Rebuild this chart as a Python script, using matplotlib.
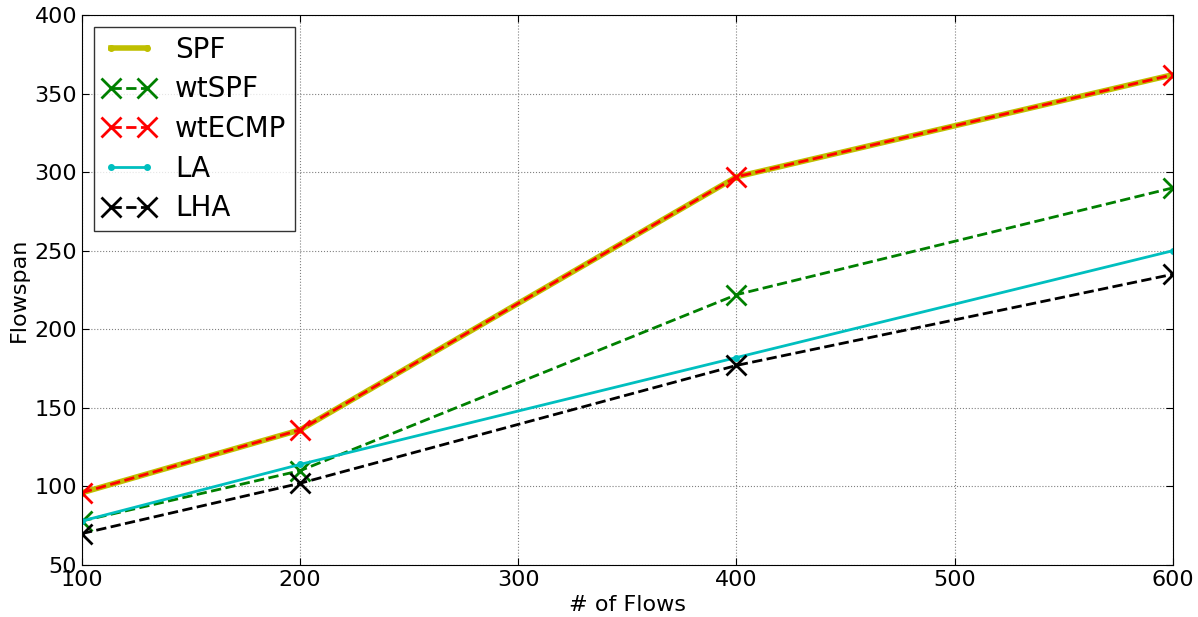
import matplotlib
matplotlib.use("Agg")
import matplotlib.pyplot as plt

# Data
flows = [100, 200, 400, 600]
spf = [96, 136, 297, 362]
wt_spf = [78, 110, 222, 290]
wt_ecmp = [96, 136, 297, 362]
la = [78, 114, 182, 250]
lha = [70, 102, 177, 235]

fig = plt.figure(figsize=(11.98, 6.17), dpi=100)
ax = fig.add_axes([0.0684, 0.0843, 0.9106, 0.8914])

ax.plot(flows, spf, "y.-", linewidth=4, markersize=8, label="SPF")
ax.plot(flows, wt_spf, "gx--", linewidth=2, markersize=15, markeredgewidth=2, label="wtSPF")
ax.plot(flows, wt_ecmp, "rx--", linewidth=2, markersize=15, markeredgewidth=2, label="wtECMP")
ax.plot(flows, la, "c.-", linewidth=2, markersize=8, label="LA")
ax.plot(flows, lha, "kx--", linewidth=2, markersize=15, markeredgewidth=2, label="LHA")

ax.set_xlim(100, 600)
ax.set_ylim(50, 400)
ax.set_xticks([100, 200, 300, 400, 500, 600])
ax.set_yticks([50, 100, 150, 200, 250, 300, 350, 400])
ax.tick_params(labelsize=16, direction="in", length=5, top=True, right=True)
ax.grid(True, linestyle=":", color="gray", linewidth=0.8)
ax.set_xlabel("# of Flows", fontsize=16)
ax.set_ylabel("Flowspan", fontsize=16)

leg = ax.legend(loc="upper left", fontsize=20, numpoints=2, fancybox=False,
                handlelength=1.9, handletextpad=0.7, borderaxespad=0.45,
                labelspacing=0.42, borderpad=0.3)
leg.get_frame().set_edgecolor("black")
leg.get_frame().set_linewidth(1)

fig.savefig("out.png", dpi=100)
